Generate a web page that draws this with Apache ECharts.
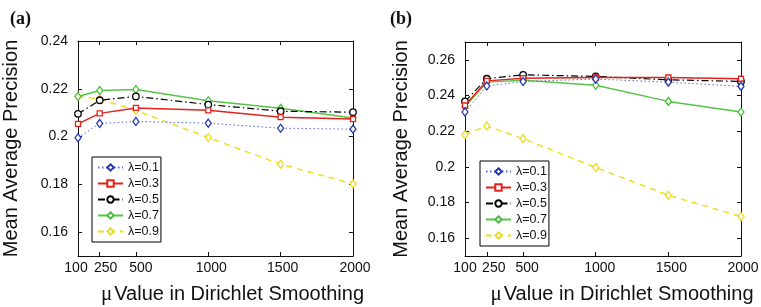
<!DOCTYPE html>
<html>
<head>
<meta charset="utf-8">
<script src="https://cdn.jsdelivr.net/npm/echarts@6/dist/echarts.min.js"></script>
<style>
html,body{margin:0;padding:0;background:#fff;}
#c{width:761px;height:307px;}
</style>
</head>
<body>
<div id="c"></div>
<script>
// ---- data ----
const muValues = [100, 250, 500, 1000, 1500, 2000];
const muLabelsMain = [250, 500, 1000, 1500, 2000];
const muLabelsFirst = [100];
const lambdaNames = ['λ=0.1', 'λ=0.3', 'λ=0.5', 'λ=0.7', 'λ=0.9'];
const yTicksA = [0.16, 0.18, 0.2, 0.22, 0.24];
const yTicksB = [0.16, 0.18, 0.2, 0.22, 0.24, 0.26];
// panel (a)
const a01 = [0.1995, 0.2055, 0.2063, 0.2056, 0.2035, 0.2031];
const a03 = [0.2053, 0.2097, 0.2120, 0.2110, 0.2081, 0.2073];
const a05 = [0.2095, 0.2152, 0.2168, 0.2134, 0.2106, 0.2102];
const a07 = [0.2168, 0.2193, 0.2197, 0.2150, 0.2118, 0.2078];
const a09 = [0.2168, 0.2157, 0.2109, 0.1996, 0.1884, 0.1802];
// panel (b)
const b01 = [0.2307, 0.2453, 0.2479, 0.2492, 0.2475, 0.2451];
const b03 = [0.2344, 0.2482, 0.2497, 0.2501, 0.2501, 0.2494];
const b05 = [0.2367, 0.2494, 0.2516, 0.2507, 0.2488, 0.2479];
const b07 = [0.2339, 0.2475, 0.2486, 0.2458, 0.2367, 0.2307];
const b09 = [0.2180, 0.2229, 0.2158, 0.1996, 0.1841, 0.1721];

// ---- styles ----
const styles = [
  {color: '#2438b0', lineColor: '#5a6ad0', type: [1.5, 2.5], width: 1, symbol: 'diamond', size: [6, 8]},
  {color: '#e3221c', lineColor: '#e3221c', type: 'solid', width: 1.5, symbol: 'rect', size: [5, 5]},
  {color: '#000000', lineColor: '#000000', type: [7, 3, 1.5, 3], width: 1.2, symbol: 'circle', size: [6.5, 6.5]},
  {color: '#48bf38', lineColor: '#55c545', type: 'solid', width: 1.5, symbol: 'diamond', size: [6, 8]},
  {color: '#eedb1a', lineColor: '#f0dc22', type: [6, 5], width: 1.5, symbol: 'diamond', size: [6, 8]}
];
// horizontal nudges (px) of the x tick labels, per panel, in tick order
const labelShiftA = [-2, 6, 5, 3, 2, 2];
const labelShiftB = [0, 7, 4, 4, 3, 2];
const FONT = '"Liberation Sans", Arial, Helvetica, sans-serif';
const AXES_PER_GRID = 3;

function pairs(vals) { return muValues.map((m, i) => [m, vals[i]]); }

function makeSeries(gridIdx, arrs) {
  return arrs.map((vals, k) => {
    const s = styles[k];
    return {
      name: lambdaNames[k],
      type: 'line',
      xAxisIndex: gridIdx * AXES_PER_GRID,
      yAxisIndex: gridIdx * 2,
      data: pairs(vals),
      symbol: s.symbol,
      symbolSize: s.size,
      showAllSymbol: true,
      lineStyle: {color: s.lineColor, type: s.type, width: s.width},
      itemStyle: {color: '#ffffff', borderColor: s.color, borderWidth: 1.3},
      emphasis: {disabled: true},
      animation: false,
      z: 5 - k + 2
    };
  });
}

function tickLabel(values, shifts) {
  const rich = {};
  muValues.forEach((m, i) => {
    const s = shifts[i];
    rich['t' + m] = {
      fontSize: 14, fontFamily: FONT, color: '#111',
      padding: s >= 0 ? [0, 0, 0, 2 * s] : [0, -2 * s, 0, 0]
    };
  });
  return {
    show: true, customValues: values, margin: 5, color: '#111', fontSize: 14, fontFamily: FONT,
    showMinLabel: true, showMaxLabel: true, hideOverlap: false,
    formatter: function (v) { return '{t' + v + '|' + v + '}'; },
    rich: rich
  };
}

function xAxes(gridIdx, nameShift, shifts) {
  const base = {
    type: 'value', gridIndex: gridIdx, min: 100, max: 2000,
    splitLine: {show: false},
    axisLine: {show: true, lineStyle: {color: '#111', width: 1}},
    axisTick: {show: true, inside: true, length: 4, customValues: muValues, lineStyle: {color: '#111'}}
  };
  return [
    Object.assign({}, base, {
      position: 'bottom',
      axisLabel: tickLabel(muLabelsMain, shifts),
      name: '{mu|μ}Value in Dirichlet Smoothing',
      nameLocation: 'middle',
      nameGap: 28,
      nameTextStyle: {
        color: '#111', fontSize: 20, fontFamily: FONT, padding: [0, 0, 0, nameShift],
        rich: {mu: {fontFamily: '"Liberation Serif", "DejaVu Serif", serif', fontSize: 21, color: '#111', padding: [0, 2, 0, 0]}}
      }
    }),
    Object.assign({}, base, {
      position: 'top',
      axisLabel: {show: false}
    }),
    Object.assign({}, base, {
      position: 'bottom',
      axisLine: {show: false},
      axisTick: {show: false},
      axisLabel: tickLabel(muLabelsFirst, shifts)
    })
  ];
}

function yAxes(gridIdx, min, max, ticks, gap) {
  const base = {
    type: 'value', gridIndex: gridIdx, min: min, max: max,
    splitLine: {show: false},
    axisLine: {show: true, lineStyle: {color: '#111', width: 1}},
    axisTick: {show: true, inside: true, length: 4, customValues: ticks, lineStyle: {color: '#111'}}
  };
  return [
    Object.assign({}, base, {
      position: 'left',
      axisLabel: {
        show: true, customValues: ticks, margin: 10, color: '#111', fontSize: 14, fontFamily: FONT,
        formatter: function (v) { return String(Math.round(v * 100) / 100); }
      },
      name: 'Mean Average Precision',
      nameLocation: 'middle',
      nameGap: gap,
      nameTextStyle: {color: '#111', fontSize: 20, fontFamily: FONT}
    }),
    Object.assign({}, base, {
      position: 'right',
      axisLabel: {show: false}
    })
  ];
}

function legend(left, top) {
  return {
    left: left, top: top,
    orient: 'vertical',
    data: lambdaNames,
    backgroundColor: '#ffffff',
    borderColor: '#000',
    borderWidth: 1,
    padding: [4, 2, 4, 5],
    itemWidth: 25,
    itemHeight: 8,
    itemGap: 3,
    selectedMode: false,
    textStyle: {color: '#111', fontSize: 12.5, fontFamily: FONT, lineHeight: 13}
  };
}

const option = {
  backgroundColor: '#ffffff',
  animation: false,
  title: [
    {text: '(a)', left: 5, top: 5, textStyle: {fontFamily: '"Liberation Serif", "DejaVu Serif", serif', fontWeight: 'bold', fontSize: 18, color: '#111'}},
    {text: '(b)', left: 385, top: 5, textStyle: {fontFamily: '"Liberation Serif", "DejaVu Serif", serif', fontWeight: 'bold', fontSize: 18, color: '#111'}}
  ],
  grid: [
    {left: 78, top: 41, width: 275, height: 215, outerBoundsMode: 'none', containLabel: false},
    {left: 465, top: 42, width: 276, height: 214, outerBoundsMode: 'none', containLabel: false}
  ],
  legend: [legend(92, 157), legend(480, 161)],
  xAxis: [].concat(xAxes(0, 34, labelShiftA), xAxes(1, 38, labelShiftB)),
  yAxis: [].concat(yAxes(0, 0.15, 0.24, yTicksA, 57), yAxes(1, 0.15, 0.27, yTicksB, 54)),
  series: [].concat(makeSeries(0, [a01, a03, a05, a07, a09]), makeSeries(1, [b01, b03, b05, b07, b09]))
};

const chart = echarts.init(document.getElementById('c'), null, {renderer: 'canvas'});
chart.setOption(option);
</script>
</body>
</html>
